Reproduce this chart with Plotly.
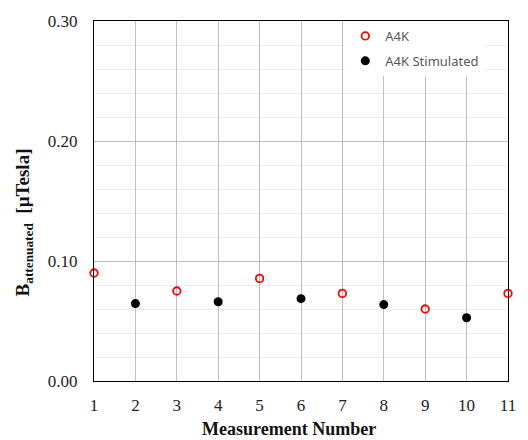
import plotly.graph_objects as go

x_a4k = [1, 3, 5, 7, 9, 11]
y_a4k = [0.090, 0.075, 0.0855, 0.073, 0.060, 0.073]
x_stim = [2, 4, 6, 8, 10]
y_stim = [0.0645, 0.066, 0.0686, 0.0637, 0.0527]
x_ticks = list(range(1, 12))
y_ticks = [0.0, 0.1, 0.2, 0.3]

fig = go.Figure()
fig.add_trace(go.Scatter(
    x=x_a4k, y=y_a4k, mode="markers", name="A4K", legendgroup="a",
    marker=dict(symbol="circle-open", size=7.5, color="#ff0000", line=dict(width=1.8, color="#ff0000")),
    cliponaxis=False))
fig.add_trace(go.Scatter(
    x=x_stim, y=y_stim, mode="markers", name="A4K Stimulated", legendgroup="b",
    marker=dict(symbol="circle", size=9, color="#000000"),
    cliponaxis=False))

serif = "Liberation Serif, Times New Roman, serif"
fig.update_layout(
    width=528, height=440,
    margin=dict(l=94, r=13, t=14, b=59),
    plot_bgcolor="white", paper_bgcolor="white",
    font=dict(family=serif, size=14, color="#222222"),
    showlegend=True,
    legend=dict(x=0.607, y=1.0, xanchor="left", yanchor="top",
                bgcolor="white", borderwidth=0, tracegroupgap=5,
                font=dict(family="Noto Sans, DejaVu Sans, sans-serif", size=13, color="#595959"),
                itemwidth=30),
    xaxis=dict(range=[1, 11], tickvals=x_ticks, ticktext=[str(v) for v in x_ticks],
               showgrid=True, gridcolor="#bfbfbf", gridwidth=1,
               showline=True, linecolor="#000000", linewidth=1, mirror=True,
               zeroline=False, ticks="", ticklen=0, ticklabelstandoff=9,
               tickfont=dict(family=serif, size=17, color="#222222")),
    yaxis=dict(range=[0, 0.3], tickvals=y_ticks, tickformat=".2f",
               showgrid=True, gridcolor="#bfbfbf", gridwidth=1,
               minor=dict(dtick=0.02, showgrid=True, gridcolor="#ececec", gridwidth=1),
               showline=True, linecolor="#000000", linewidth=1, mirror=True,
               zeroline=False, ticks="", ticklen=0, ticklabelstandoff=12,
               tickfont=dict(family=serif, size=17, color="#222222")),
    annotations=[
        dict(text="<b>Measurement Number</b>", xref="paper", yref="paper",
             x=0.470, y=-0.1335, xanchor="center", yanchor="middle", showarrow=False,
             font=dict(family=serif, size=18, color="#111111")),
        dict(text="<b>B<sub>attenuated</sub>  [µTesla]</b>", xref="paper", yref="paper",
             x=-0.1686, y=0.441, xanchor="center", yanchor="middle", showarrow=False,
             textangle=-90, font=dict(family=serif, size=19, color="#111111")),
    ],
)
fig.write_html("out.html", config={"displayModeBar": False},
               post_script="document.body.style.margin='0px';document.body.style.overflow='hidden';")
